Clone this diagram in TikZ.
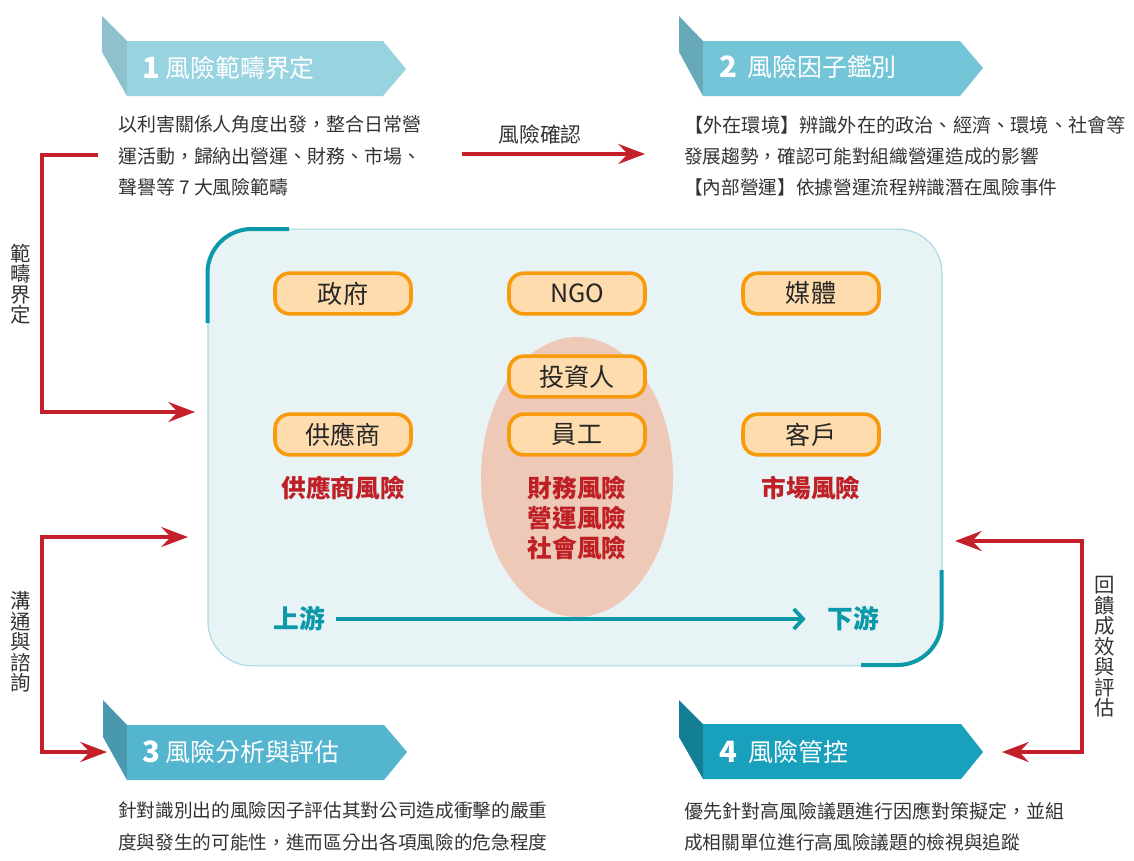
\documentclass[tikz,border=0pt]{standalone}
\usepackage{fontspec}
\setmainfont{Noto Sans CJK TC}
\usetikzlibrary{arrows.meta,shapes.geometric}
\definecolor{redline}{HTML}{C4202B}
\definecolor{tealline}{HTML}{0B98A8}
\definecolor{riskred}{HTML}{BE2026}
\definecolor{chevaside}{HTML}{8FC1CD}
\definecolor{chevamain}{HTML}{98D3E0}
\definecolor{chevbside}{HTML}{67A9B9}
\definecolor{chevbmain}{HTML}{74C5D8}
\definecolor{chevcside}{HTML}{4A98AD}
\definecolor{chevcmain}{HTML}{53B5CE}
\definecolor{chevdside}{HTML}{147E94}
\definecolor{chevdmain}{HTML}{19A0BC}
\definecolor{panelfill}{HTML}{E8F3F6}
\definecolor{panelline}{HTML}{A5D8E0}
\definecolor{halofill}{HTML}{EEC9B7}
\definecolor{boxfill}{HTML}{FEDCAE}
\definecolor{boxline}{HTML}{F79A0C}
\tikzset{
    bodytext/.style={anchor=north west, align=left, inner sep=0pt, text=black!80, font=\fontsize{14.2}{23.6}\selectfont},
    titletext/.style={anchor=west, inner sep=0pt, text=white, font=\fontsize{18.7}{22}\selectfont},
    titlenum/.style={anchor=west, inner sep=0pt, text=white, font=\fontsize{22}{24}\bfseries\selectfont},
    sidelabel/.style={align=center, inner sep=0pt, text=black!80, font=\fontsize{15.3}{15.4}\selectfont},
    partybox/.style={draw=boxline, fill=boxfill, line width=2.7pt, rounded corners=11pt, minimum width=102pt, minimum height=30.5pt, inner sep=0pt, text=black!85, font=\fontsize{18.8}{20}\selectfont},
    risktext/.style={align=center, inner sep=0pt, text=riskred, font=\fontsize{18.5}{22.5}\bfseries\selectfont},
    flowtext/.style={inner sep=0pt, text=tealline, font=\fontsize{19.3}{22}\bfseries\selectfont},
    redarrow/.style={draw=redline, line width=2.6pt, line join=miter, -{Stealth[length=20pt,width=15pt,inset=7pt]}},
    redtwoway/.style={redarrow, {Stealth[length=20pt,width=15pt,inset=7pt]}-{Stealth[length=20pt,width=15pt,inset=7pt]}},
}
\begin{document}
\begin{tikzpicture}[x=0.75pt, y=-0.75pt]
    \useasboundingbox (0,0) rectangle (1134,860);

    % Chevrons.
    \fill[chevaside] (102,16) -- (127,41) -- (127,96) -- (102,52) -- cycle;
    \fill[chevamain] (127,41) -- (383,41) -- (406,69) -- (383,96) -- (127,96) -- cycle;
    \fill[chevbside] (679,16) -- (703,41) -- (703,96) -- (679,52) -- cycle;
    \fill[chevbmain] (703,41) -- (960,41) -- (983,68) -- (960,96) -- (703,96) -- cycle;
    \fill[chevcside] (103,700) -- (127,725) -- (127,780) -- (103,737) -- cycle;
    \fill[chevcmain] (127,725) -- (384,725) -- (407,752) -- (384,780) -- (127,780) -- cycle;
    \fill[chevdside] (679,700) -- (703,724) -- (703,779) -- (679,737) -- cycle;
    \fill[chevdmain] (703,724) -- (961,724) -- (983,752) -- (961,779) -- (703,779) -- cycle;

    % Titles.
    \node[titlenum] (numa) at (142,68) {1};
    \node[titletext] (titlea) at (165,68) {風險範疇界定};
    \node[titlenum] (numb) at (719,67) {2};
    \node[titletext] (titleb) at (747,67) {風險因子鑑別};
    \node[titlenum] (numc) at (142,752) {3};
    \node[titletext] (titlec) at (165,752) {風險分析與評估};
    \node[titlenum] (numd) at (719,752) {4};
    \node[titletext] (titled) at (748,752) {風險管控};

    % Paragraphs.
    \node[bodytext] (parascope) at (118,115.5) {以利害關係人角度出發，整合日常營\\運活動，歸納出營運、財務、市場、\\聲譽等 7 大風險範疇};
    \node[bodytext, font=\fontsize{14}{23.6}\selectfont] (parafactor) at (684,115.5) {{\fontsize{14.4}{23.6}\selectfont 【外在環境】辨識外在的政治、經濟、環境、社會等}\\發展趨勢，確認可能對組織營運造成的影響\\【內部營運】依據營運流程辨識潛在風險事件};
    \node[bodytext, font=\fontsize{14}{23.6}\selectfont] (paraassess) at (118,801.5) {針對識別出的風險因子評估其對公司造成衝擊的嚴重\\度與發生的可能性，進而區分出各項風險的危急程度};
    \node[bodytext, font=\fontsize{14}{23.6}\selectfont] (paracontrol) at (684,801.5) {{\fontsize{14.25}{23.6}\selectfont 優先針對高風險議題進行因應對策擬定，並組}\\成相關單位進行高風險議題的檢視與追蹤};

    % Panel.
    \node[draw=panelline, fill=panelfill, line width=0.8pt, rounded corners=33pt, minimum width=550.5pt, minimum height=327.5pt, inner sep=0pt] (panel) at (575,447.5) {};
    \draw[tealline, line width=3pt, rounded corners=33pt] (207.5,323) -- (207.5,229) -- (289,229);
    \draw[tealline, line width=3pt, rounded corners=33pt] (941.5,570) -- (941.5,665) -- (861,665);
    \node[ellipse, fill=halofill, minimum width=144pt, minimum height=210pt, inner sep=0pt] (halo) at (577,477) {};

    % Parties.
    \node[partybox] (gov) at (343,293.5) {政府};
    \node[partybox] (ngo) at (577,293.5) {NGO};
    \node[partybox] (media) at (811,293.5) {媒體};
    \node[partybox] (investor) at (577,376.5) {投資人};
    \node[partybox] (supplier) at (343,434.5) {供應商};
    \node[partybox] (staff) at (577,434.5) {員工};
    \node[partybox] (client) at (811,434.5) {客戶};

    % Risks.
    \node[risktext] (risksupplier) at (343,488) {供應商風險};
    \node[risktext] (riskstaff) at (577,518) {財務風險\\營運風險\\社會風險};
    \node[risktext] (riskclient) at (811,488) {市場風險};

    % Value chain.
    \node[flowtext] (up) at (299,619) {上游};
    \node[flowtext] (down) at (853,619) {下游};
    \draw[tealline, line width=2.8pt, -{Straight Barb[length=7pt,width=15pt,line width=2.8pt]}] ([xshift=8.5pt]up.east) -- ([xshift=-16pt]down.west);

    % Red connectors.
    \coordinate (scopeout) at (98,155);
    \coordinate (scopein) at (195,412);
    \coordinate (confirma) at (462,154);
    \coordinate (confirmb) at (645,154);
    \coordinate (talka) at (188,537);
    \coordinate (talkb) at (107,752);
    \coordinate (backa) at (955,541);
    \coordinate (backb) at (1002,752);
    \draw[redarrow] (scopeout) -- (42,155) -- (42,412) -- (scopein);
    \draw[redarrow] (confirma) -- (confirmb);
    \draw[redtwoway] (talka) -- (42,537) -- (42,752) -- (talkb);
    \draw[redtwoway] (backa) -- (1082,541) -- (1082,752) -- (backb);

    % Labels.
    \node[inner sep=0pt, text=black!80, font=\fontsize{15.6}{18}\selectfont] (confirm) at (540,135) {風險確認};
    \node[sidelabel] (scopelabel) at (21,284) {範\\疇\\界\\定};
    \node[sidelabel] (talklabel) at (21,642) {溝\\通\\與\\諮\\詢};
    \node[sidelabel] (backlabel) at (1105,647) {回\\饋\\成\\效\\與\\評\\估};
\end{tikzpicture}
\end{document}
